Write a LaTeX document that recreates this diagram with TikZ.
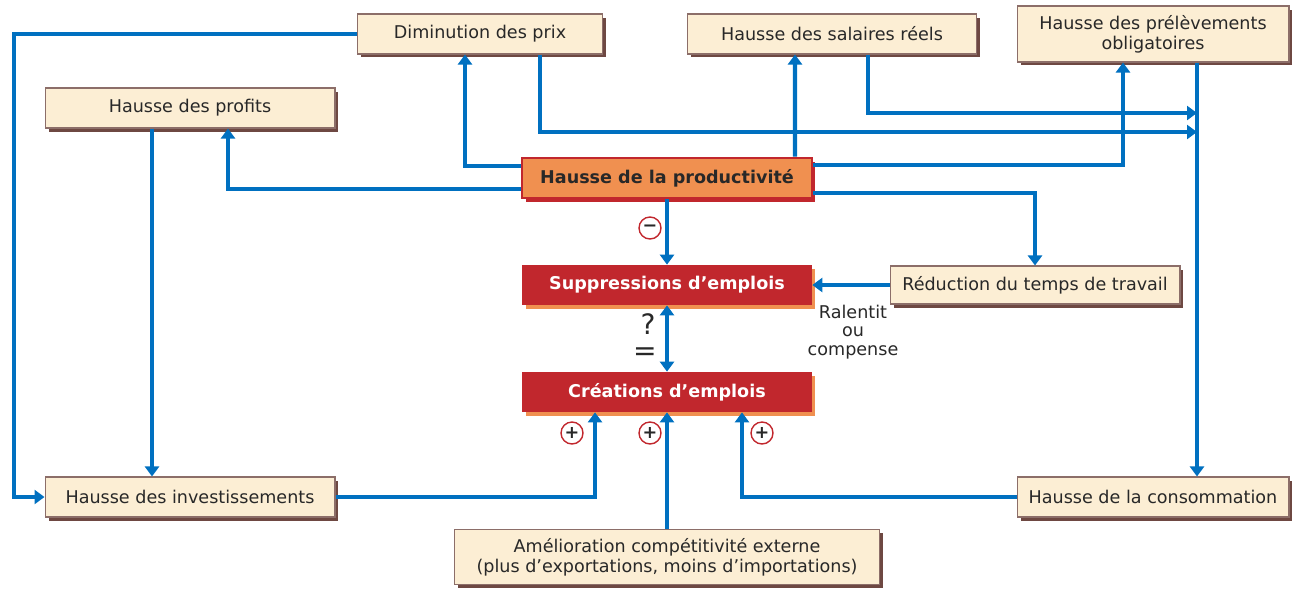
\documentclass[tikz,border=0pt]{standalone}
\usepackage{fontspec}
\setmainfont{DejaVu Sans}
\usetikzlibrary{arrows.meta,shadows}

\definecolor{bleu}{RGB}{0,112,192}
\definecolor{creme}{RGB}{252,238,212}
\definecolor{cadre}{RGB}{140,110,105}
\definecolor{ombre}{RGB}{110,72,66}
\definecolor{orangep}{RGB}{240,144,80}
\definecolor{rouge}{RGB}{193,39,45}
\definecolor{texte}{RGB}{40,40,40}

\tikzset{
  boite/.style={draw=cadre, fill=creme, line width=0.6pt, minimum height=0.8cm, align=center, text=texte, inner sep=2pt,
    drop shadow={shadow xshift=0.07cm, shadow yshift=-0.07cm, fill=ombre, opacity=1}},
  boiteorange/.style={draw=rouge, fill=orangep, line width=1.5pt, minimum height=0.8cm, minimum width=5.8cm, text=texte, font=\bfseries,
    drop shadow={shadow xshift=0.07cm, shadow yshift=-0.07cm, fill=rouge, opacity=1}},
  boiterouge/.style={fill=rouge, minimum height=0.8cm, minimum width=5.8cm, text=white, font=\bfseries,
    drop shadow={shadow xshift=0.07cm, shadow yshift=-0.07cm, fill=orangep, opacity=1}},
  fleche/.style={draw=bleu, line width=2.4pt, -{Triangle[length=0.2cm, width=0.28cm]}},
  signe/.style={circle, draw=rouge, line width=0.8pt, minimum size=0.44cm, inner sep=0pt, text=texte, font=\bfseries}
}

\begin{document}
\begin{tikzpicture}[x=0.02cm, y=-0.02cm, font=\fontsize{10}{11.5}\selectfont]
\useasboundingbox (0,0) rectangle (1293,592);

% Les cases du haut
\node[boite, minimum width=4.9cm] (prix) at (480,34) {Diminution des prix};
\node[boite, minimum width=5.78cm] (salaires) at (832,34) {Hausse des salaires réels};
\node[boite, minimum width=5.44cm, minimum height=1.12cm] (prelev) at (1153,34) {Hausse des prélèvements\\obligatoires};
\node[boite, minimum width=5.8cm] (profits) at (190,108) {Hausse des profits};

% La case centrale et les emplois
\node[boiteorange] (productivite) at (667,178) {Hausse de la productivité};
\node[boiterouge] (suppr) at (667,285) {Suppressions d’emplois};
\node[boiterouge] (creations) at (667,392) {Créations d’emplois};
\node[boite, minimum width=5.8cm, minimum height=0.76cm] (reduction) at (1035,285) {Réduction du temps de travail};

% Les cases du bas
\node[boite, minimum width=5.8cm] (invest) at (190,497) {Hausse des investissements};
\node[boite, minimum width=5.44cm] (conso) at (1153,497) {Hausse de la consommation};
\node[boite, minimum width=8.5cm, minimum height=1.1cm] (amelio) at (667,557) {Amélioration compétitivité externe\\(plus d’exportations, moins d’importations)};

% Verticale qui descend des prélèvements
\coordinate (v) at ([xshift=0.88cm]prelev.south);

% Fleches depuis la productivite
\draw[fleche] ([yshift=-0.18cm]productivite.north west) -| ([xshift=-0.3cm]prix.south);
\draw[fleche] ([yshift=0.2cm]productivite.south west) -| ([xshift=0.76cm]profits.south);
\draw[fleche] ([xshift=2.56cm]productivite.north) -- ([xshift=-0.74cm]salaires.south);
\draw[fleche] ([yshift=-0.16cm]productivite.north east) -| ([xshift=-0.6cm]prelev.south);
\draw[fleche] ([yshift=0.12cm]productivite.south east) -| (reduction.north);
\draw[fleche] (productivite) -- (suppr);

% Fleches vers la verticale des prélèvements
\draw[fleche] ([xshift=1.2cm]prix.south) |- (v |- 0,132);
\draw[fleche] ([xshift=0.72cm]salaires.south) |- (v |- 0,113);
\draw[fleche] (v) -- ([xshift=0.88cm]conso.north);

% Boucle des prix et des profits vers les investissements
\draw[fleche] (prix.west) -- ++(-343,0) |- (invest.west);
\draw[fleche] ([xshift=-0.76cm]profits.south) -- ([xshift=-0.76cm]invest.north);

% Reduction du temps de travail
\draw[fleche] (reduction.west) -- (suppr.east);
\node[align=center, text=texte, font=\fontsize{10}{10.5}\selectfont] (ralentit) at (853,332) {Ralentit\\ou\\compense};

% Suppressions et creations
\draw[fleche, {Triangle[length=0.2cm, width=0.28cm]}-{Triangle[length=0.2cm, width=0.28cm]}] (suppr) -- (creations);
\node[text=texte, inner sep=0pt, font=\fontsize{16}{16}\selectfont] (question) at (648,324) {?};
\node[text=texte, inner sep=0pt, font=\fontsize{16}{16}\selectfont] (egal) at (645,354) {=};

% Fleches vers les creations
\draw[fleche] (invest.east) -| ([xshift=-1.44cm]creations.south);
\draw[fleche] (amelio.north) -- (creations.south);
\draw[fleche] (conso.west) -| ([xshift=1.5cm]creations.south);

% Les signes
\node[signe] (moins) at (650,228) {−};
\node[signe] (plusa) at (572,433) {+};
\node[signe] (plusb) at (650,433) {+};
\node[signe] (plusc) at (762,433) {+};
\end{tikzpicture}
\end{document}
